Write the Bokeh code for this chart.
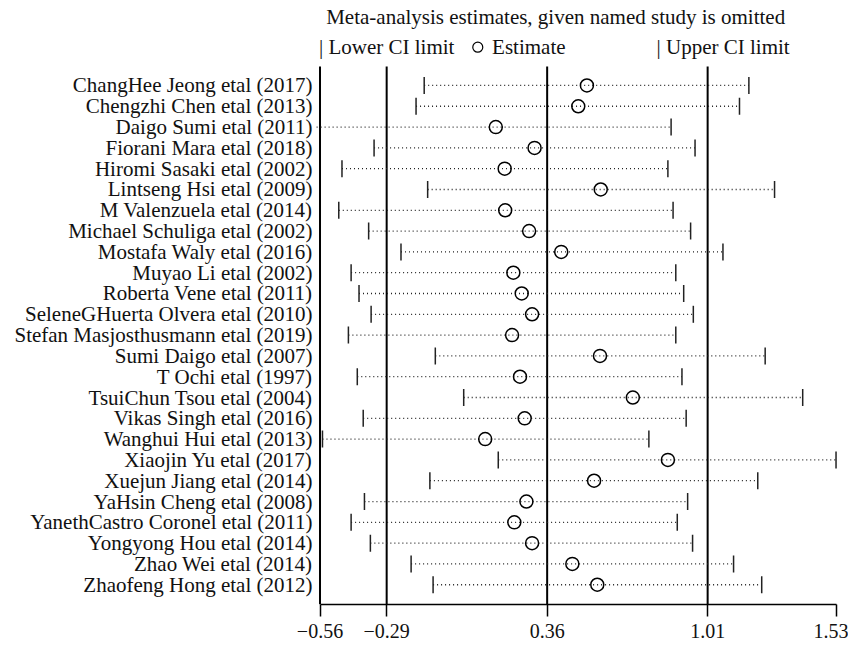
import numpy as np
from bokeh.plotting import figure
from bokeh.models import Range1d, FixedTicker, CustomJSTickFormatter
from bokeh.core.properties import value
from bokeh.embed import file_html
from bokeh.resources import INLINE

studies = [
    "ChangHee Jeong etal (2017)",
    "Chengzhi Chen etal (2013)",
    "Daigo Sumi etal (2011)",
    "Fiorani Mara etal (2018)",
    "Hiromi Sasaki etal (2002)",
    "Lintseng Hsi etal (2009)",
    "M Valenzuela etal (2014)",
    "Michael Schuliga etal (2002)",
    "Mostafa Waly etal (2016)",
    "Muyao Li etal (2002)",
    "Roberta Vene etal (2011)",
    "SeleneGHuerta Olvera etal (2010)",
    "Stefan Masjosthusmann etal (2019)",
    "Sumi Daigo etal (2007)",
    "T Ochi etal (1997)",
    "TsuiChun Tsou etal (2004)",
    "Vikas Singh etal (2016)",
    "Wanghui Hui etal (2013)",
    "Xiaojin Yu etal (2017)",
    "Xuejun Jiang etal (2014)",
    "YaHsin Cheng etal (2008)",
    "YanethCastro Coronel etal (2011)",
    "Yongyong Hou etal (2014)",
    "Zhao Wei etal (2014)",
    "Zhaofeng Hong etal (2012)",
]
lower = [-0.138, -0.171, -0.59, -0.341, -0.471, -0.124, -0.484, -0.363, -0.232,
         -0.434, -0.402, -0.353, -0.445, -0.093, -0.409, 0.022, -0.385, -0.550,
         0.162, -0.115, -0.380, -0.434, -0.356, -0.191, -0.102]
estimate = [0.521, 0.486, 0.152, 0.309, 0.188, 0.577, 0.190, 0.287, 0.417,
            0.223, 0.257, 0.299, 0.218, 0.574, 0.250, 0.707, 0.269, 0.109,
            0.849, 0.550, 0.276, 0.227, 0.299, 0.462, 0.563]
upper = [1.177, 1.139, 0.862, 0.959, 0.849, 1.281, 0.870, 0.941, 1.072,
         0.881, 0.913, 0.952, 0.881, 1.243, 0.906, 1.395, 0.923, 0.772,
         1.530, 1.213, 0.929, 0.887, 0.949, 1.115, 1.229]
ref_lines = [-0.56, -0.29, 0.36, 1.01]
x_ticks = [-0.56, -0.29, 0.36, 1.01, 1.53]
title_text = "Meta-analysis estimates, given named study is omitted"
legend_texts = ["| Lower CI limit", "Estimate", "| Upper CI limit"]

FONT = "Liberation Serif"
ypos = list(range(len(studies)))

y_bottom, y_top = 24.95, -3.70
p = figure(width=848, height=644,
           x_range=Range1d(-0.5823, 1.5805), y_range=Range1d(y_bottom, y_top),
           output_backend="svg", toolbar_location=None,
           min_border_left=314, min_border_right=0, min_border_top=8,
           min_border_bottom=40)
p.outline_line_color = None
p.xgrid.visible = False
p.ygrid.visible = False

# reference vertical lines
p.segment(x0=ref_lines, y0=[-0.91] * len(ref_lines), x1=ref_lines,
          y1=[y_bottom] * len(ref_lines), line_color="black", line_width=2)

# CI dotted lines
p.segment(x0=lower, y0=ypos, x1=upper, y1=ypos, line_dash="1 3",
          line_color="#222222", line_width=1.3)
p.scatter(x=lower, y=ypos, marker="dash", angle=np.pi / 2, size=17,
          line_color="#222222", line_width=1.5)
p.scatter(x=upper, y=ypos, marker="dash", angle=np.pi / 2, size=17,
          line_color="#222222", line_width=1.5)
p.scatter(x=estimate, y=ypos, marker="circle", size=13, fill_color=None,
          line_color="black", line_width=1.5)

# header
p.text(x=[-0.535], y=[-3.28], text=[title_text], text_font=value(FONT),
       text_font_size="21px", text_baseline="middle", text_align="left",
       text_color="#111111")
p.text(x=[-0.564, 0.137, 0.803], y=[-1.84] * 3, text=legend_texts,
       text_font=value(FONT), text_font_size="21px", text_baseline="middle",
       text_align="left", text_color="#111111")
p.scatter(x=[0.079], y=[-1.84], marker="circle", size=10, fill_color=None,
          line_color="black", line_width=1.2)

# y axis (study names)
ya = p.yaxis[0]
ya.ticker = FixedTicker(ticks=ypos)
ya.formatter = CustomJSTickFormatter(args=dict(labels=studies), code="""
    const i = Math.round(tick);
    return (i >= 0 && i < labels.length) ? labels[i] : '';
""")
ya.axis_line_color = None
ya.major_tick_line_color = None
ya.minor_tick_line_color = None
ya.major_tick_in = 0
ya.major_tick_out = 0
ya.major_label_standoff = 2
ya.major_label_text_font = FONT
ya.major_label_text_font_size = "21px"
ya.major_label_text_color = "#111111"

# x axis
xa = p.xaxis[0]
xa.ticker = FixedTicker(ticks=x_ticks)
xa.bounds = (x_ticks[0], x_ticks[-1])
xa.formatter = CustomJSTickFormatter(code="""
    const s = Math.abs(tick).toFixed(2);
    return tick < 0 ? '\u2212' + s : s;
""")
xa.axis_line_color = "black"
xa.axis_line_width = 1.5
xa.major_tick_line_color = "black"
xa.major_tick_line_width = 1.5
xa.major_tick_in = 0
xa.major_tick_out = 12
xa.minor_tick_line_color = None
xa.major_label_standoff = 7
xa.major_label_text_font = FONT
xa.major_label_text_font_size = "20px"
xa.major_label_text_color = "#111111"

open("out.html", "w").write(file_html(p, INLINE))
